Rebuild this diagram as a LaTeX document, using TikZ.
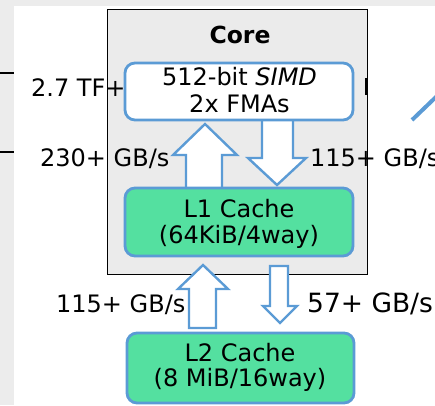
\documentclass[tikz,border=0pt]{standalone}
\usepackage{fontspec}
\setmainfont{DejaVu Sans}
\definecolor{bblue}{RGB}{91,155,213}
\definecolor{cgreen}{RGB}{84,224,160}
\definecolor{coregray}{RGB}{235,235,235}
\definecolor{sidegray}{RGB}{236,236,236}
\begin{document}
\begin{tikzpicture}[x=1pt,y=-1pt,
  txt/.style={font=\fontsize{24}{28}\selectfont, inner sep=0pt},
  lbl/.style={font=\fontsize{24}{28}\selectfont, inner sep=0pt, anchor=base west},
  unit/.style={draw=bblue, line width=2.8pt, rounded corners=10pt, inner sep=0pt},
  barrow/.style={draw=bblue, fill=white, line width=2.4pt, line join=miter}
]
\useasboundingbox (0,0) rectangle (435,405);
% background strips
\fill[sidegray] (0,0) rectangle (14,405);
\fill[sidegray] (0,0) rectangle (435,6);
\draw[line width=1.3pt] (0,73) -- (14,73);
\draw[line width=1.3pt] (0,152) -- (14,152);
% core box
\node[draw=black, fill=coregray, line width=1.2pt, minimum width=260, minimum height=265,
      anchor=north west, inner sep=0pt] (core) at (107,9) {};
\draw[line width=2.5pt] (366,78) -- (366,95);
\node[font=\fontsize{23.5}{26}\selectfont\bfseries, inner sep=0pt, anchor=base] (coret) at (240,43) {Core};
% block arrows inside core
\draw[barrow] (205,124) -- (237,155) -- (222,155) -- (222,190) -- (186,190) -- (186,155) -- (173,155) -- cycle;
\draw[barrow] (277,185) -- (306,158) -- (293,158) -- (293,118) -- (262,118) -- (262,158) -- (248,158) -- cycle;
% units
\node[unit, fill=white, minimum width=228, minimum height=57] (simd) at (239,91.5) {};
\node[unit, fill=cgreen, minimum width=228, minimum height=68] (l1) at (239,222) {};
\node[unit, fill=cgreen, minimum width=227, minimum height=70] (l2) at (240.5,368) {};
% lower arrows
\draw[barrow] (203,265) -- (228,289) -- (216,289) -- (216,328) -- (189,328) -- (189,289) -- (178,289) -- cycle;
\draw[barrow] (280,323) -- (297,306) -- (288,306) -- (288,266) -- (270,266) -- (270,306) -- (263,306) -- cycle;
% unit texts
\node[txt, anchor=base] (s1) at (239.5,85) {512-bit \textit{SIMD}};
\node[txt, anchor=base] (s2) at (239.5,112) {2x FMAs};
\node[txt, anchor=base] (c1) at (239,217) {L1 Cache};
\node[txt, anchor=base] (c2) at (239,243) {(64KiB/4way)};
\node[txt, anchor=base] (d1) at (240,361) {L2 Cache};
\node[txt, anchor=base] (d2) at (240,386) {(8 MiB/16way)};
% labels
\node[lbl] (tf) at (31,96) {2.7 TF+};
\node[lbl] (bw1) at (40,166) {230+ GB/s};
\node[lbl] (bw2) at (310,166) {115+ GB/s};
\node[lbl] (bw3) at (56,312) {115+ GB/s};
\node[lbl, font=\fontsize{26.5}{30}\selectfont] (bw4) at (307,312) {57+ GB/s};
% partial arrow at top right
\draw[bblue, line width=4pt] (412,120) -- (437,96);
\end{tikzpicture}
\end{document}
